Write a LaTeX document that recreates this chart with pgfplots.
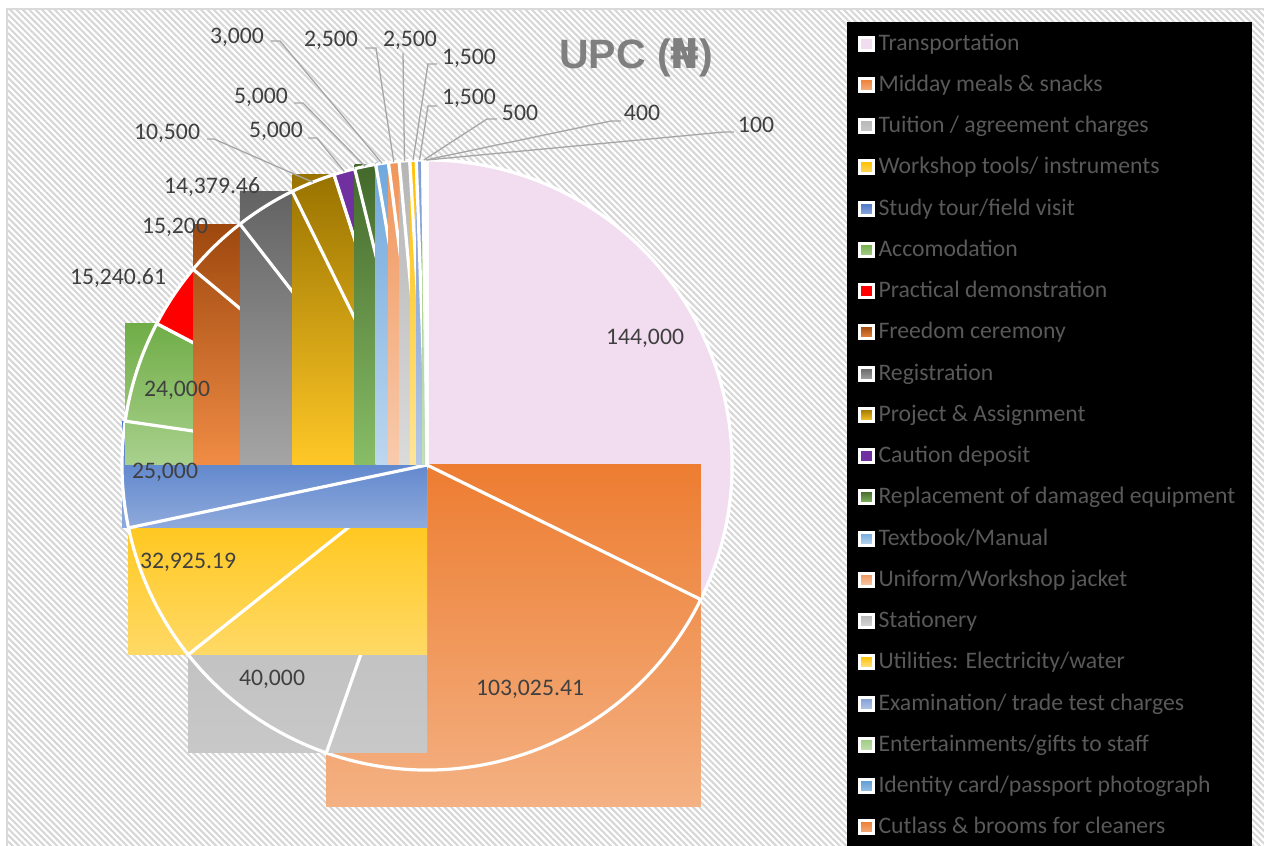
\documentclass[border=0pt]{standalone}
\usepackage{fontspec}
\setmainfont{Carlito}
\newfontfamily\titlefont{Liberation Sans}
\newfontfamily\nairafont{DejaVu Sans}
\usepackage{pgfplots}
\pgfplotsset{compat=1.18}
\usepackage{pgfplotstable}
\usepackage{xfp}
\usetikzlibrary{patterns.meta}

\definecolor{s0t}{HTML}{F2DCEF}\definecolor{s0b}{HTML}{F2DCEF}
\definecolor{s1t}{HTML}{ED7D31}\definecolor{s1b}{HTML}{F4B183}
\definecolor{s2t}{HTML}{B8B8B8}\definecolor{s2b}{HTML}{C8C8C8}
\definecolor{s3t}{HTML}{FFC000}\definecolor{s3b}{HTML}{FFD966}
\definecolor{s4t}{HTML}{4472C4}\definecolor{s4b}{HTML}{8FAADC}
\definecolor{s5t}{HTML}{70AD47}\definecolor{s5b}{HTML}{A9D18E}
\definecolor{s6t}{HTML}{FF0000}\definecolor{s6b}{HTML}{FF0000}
\definecolor{s7t}{HTML}{9E480E}\definecolor{s7b}{HTML}{F08C45}
\definecolor{s8t}{HTML}{636363}\definecolor{s8b}{HTML}{A5A5A5}
\definecolor{s9t}{HTML}{997300}\definecolor{s9b}{HTML}{FFC827}
\definecolor{s10t}{HTML}{7030A0}\definecolor{s10b}{HTML}{7030A0}
\definecolor{s11t}{HTML}{43682B}\definecolor{s11b}{HTML}{88BD66}
\definecolor{s12t}{HTML}{70A8DC}\definecolor{s12b}{HTML}{BDD7EE}
\definecolor{s13t}{HTML}{F0955A}\definecolor{s13b}{HTML}{F8CBAD}
\definecolor{s14t}{HTML}{B5B5B5}\definecolor{s14b}{HTML}{DBDBDB}
\definecolor{s15t}{HTML}{FFC000}\definecolor{s15b}{HTML}{FFE699}
\definecolor{s16t}{HTML}{7F9DD4}\definecolor{s16b}{HTML}{B4C7E7}
\definecolor{s17t}{HTML}{9CCB7C}\definecolor{s17b}{HTML}{C5E0B4}
\definecolor{s18t}{HTML}{5B9BD5}\definecolor{s18b}{HTML}{9DC3E6}
\definecolor{s19t}{HTML}{ED7D31}\definecolor{s19b}{HTML}{F4B183}
\definecolor{hatch}{HTML}{D6D6D6}
\definecolor{bordercol}{HTML}{D9D9D9}
\definecolor{labelgray}{HTML}{404040}
\definecolor{legtext}{HTML}{595959}
\definecolor{titlegray}{HTML}{7F7F7F}
\definecolor{leadercol}{HTML}{A6A6A6}

% value, data label, label centre (image px), leader start and knee (image px; 0 = no leader),
% sec = 1 for solid-filled slices (drawn as true sectors), 0 for gradient slices (drawn as bounding rectangles)
\pgfplotstableread{
value label lx ly sx sy kx ky sec
144000 144,000 645 338 0 0 0 0 1
103025.41 103,025.41 530 689 0 0 0 0 0
40000 40,000 272 679 0 0 0 0 0
32925.19 32,925.19 188 562 0 0 0 0 0
25000 25,000 165 472 0 0 0 0 0
24000 24,000 177 390 0 0 0 0 0
15240.61 15,240.61 118 278 0 0 0 0 1
15200 15,200 175 227 0 0 0 0 0
14379.46 14,379.46 212 187 0 0 0 0 0
10500 10,500 167 133 207 139 214 139 0
5000 5,000 276 131 308 138 317 138 1
5000 5,000 261 97 294 103 303 103 0
3000 3,000 237 37 271 41 280 41 0
2500 2,500 331 40 365 48 376 48 0
2500 2,500 410 40 403 53 403 53 0
1500 1,500 469 58 437 64 428 64 0
1500 1,500 469 98 437 106 428 106 0
500 500 520 113 497 119 487 119 0
400 400 642 113 621 121 611 121 0
100 100 756 125 734 132 724 132 0
}\slices

\def\cx{427}\def\cy{381}\def\R{305}

\begin{document}
\begin{tikzpicture}
\def\total{0}
\pgfplotsforeachungrouped \sl in {0,...,19}{%
  \pgfplotstablegetelem{\sl}{value}\of\slices
  \edef\total{\fpeval{\total+\pgfplotsretval}}%
}
\begin{axis}[
  x=1pt, y=1pt, xmin=0, xmax=1264, ymin=0, ymax=846,
  enlargelimits=false, hide axis, clip=false,
  at={(0,0)}, anchor=south west,
  legend entries={Transportation, Midday meals \& snacks, Tuition / agreement charges,
    Workshop tools/ instruments, Study tour/field visit, Accomodation,
    Practical demonstration, Freedom ceremony, Registration, Project \& Assignment,
    Caution deposit, Replacement of damaged equipment, Textbook/Manual,
    Uniform/Workshop jacket, Stationery, Utilities: Electricity/water,
    Examination/ trade test charges, Entertainments/gifts to staff,
    Identity card/passport photograph, Cutlass \& brooms for cleaners},
  legend cell align=left,
  legend image code/.code={\draw[#1,draw=white,line width=3pt] (1.5pt,-5.7pt) rectangle (15.5pt,7.3pt);},
  legend style={at={(axis description cs:0.6788,0.9598)}, anchor=north west,
    draw=none, fill=none, inner sep=0pt, outer sep=0pt,
    row sep=20.25pt, column sep=3.5pt,
    font=\fontsize{23.7}{28}\selectfont,
    nodes={inner sep=0pt, text=legtext, text height=16pt, text depth=5pt}},
]
% background
\fill[white] (axis cs:0,0) rectangle (axis cs:1264,846);
\fill[pattern={Lines[angle=-45,distance=4.5pt,line width=2pt]}, pattern color=hatch]
  (axis cs:7,0) rectangle (axis cs:1264,837);
\draw[bordercol, line width=1.5pt] (axis cs:7,0) -- (axis cs:7,837) -- (axis cs:1264,837);
\fill[black] (axis cs:847,0) rectangle (axis cs:1252,824);

% slice fills, each followed by its white outline
\def\astart{90}
\pgfplotsforeachungrouped \sl in {0,...,19}{%
  \pgfplotstablegetelem{\sl}{value}\of\slices \let\v\pgfplotsretval
  \pgfplotstablegetelem{\sl}{sec}\of\slices \let\sec\pgfplotsretval
  \edef\aA{\astart}%
  \edef\aB{\fpeval{\aA-\v/\total*360}}%
  \global\let\astart\aB
  \edef\xL{\fpeval{\cx+\R*min(0,cosd(\aA),cosd(\aB),(((\aB<=-180)&&(\aA>=-180))?-1:0))}}%
  \edef\xR{\fpeval{\cx+\R*max(0,cosd(\aA),cosd(\aB),(((\aB<=0)&&(\aA>=0))?1:0))}}%
  \edef\yT{\fpeval{\cy+\R*max(0,sind(\aA),sind(\aB),(((\aB<=90)&&(\aA>=90))?1:0))}}%
  \edef\yB{\fpeval{\cy+\R*min(0,sind(\aA),sind(\aB),(((\aB<=-90)&&(\aA>=-90))?-1.12:0))}}%
  \edef\pAx{\fpeval{\cx+\R*cosd(\aA)}}\edef\pAy{\fpeval{\cy+\R*sind(\aA)}}%
  \edef\pBx{\fpeval{\cx+\R*cosd(\aB)}}\edef\pBy{\fpeval{\cy+\R*sind(\aB)}}%
  \edef\outline{\noexpand\draw[white,line width=3.2pt,line join=round]
      (axis cs:\pAx,\pAy) -- (axis cs:\cx,\cy) -- (axis cs:\pBx,\pBy)
      arc[start angle=\aB, end angle=\aA, radius=\R pt];}%
  \ifnum\sec=1
    \edef\cmd{\noexpand\begin{scope}\noexpand\clip (axis cs:\cx,\cy) -- (axis cs:\pBx,\pBy)
        arc[start angle=\aB, end angle=\aA, radius=\R pt] -- cycle;
      \noexpand\addplot[draw=none,mark=none,top color=s\sl t,bottom color=s\sl b]
        coordinates {(\xL,\yT) (\xR,\yT) (\xR,\yB) (\xL,\yB) (\xL,\yT)};
      \noexpand\end{scope}}%
  \else
    \edef\cmd{\noexpand\addplot[draw=none,mark=none,top color=s\sl t,bottom color=s\sl b]
        coordinates {(\xL,\yT) (\xR,\yT) (\xR,\yB) (\xL,\yB) (\xL,\yT)};}%
  \fi
  \cmd
  \outline
}

% leader lines and data labels
\def\astart{90}
\pgfplotsforeachungrouped \sl in {0,...,19}{%
  \pgfplotstablegetelem{\sl}{value}\of\slices \let\v\pgfplotsretval
  \edef\aA{\astart}%
  \edef\aB{\fpeval{\aA-\v/\total*360}}%
  \global\let\astart\aB
  \edef\am{\fpeval{(\aA+\aB)/2}}%
  \edef\mx{\fpeval{\cx+\R*cosd(\am)}}%
  \edef\my{\fpeval{\cy+\R*sind(\am)}}%
  \pgfplotstablegetelem{\sl}{sx}\of\slices \let\sx\pgfplotsretval
  \pgfplotstablegetelem{\sl}{sy}\of\slices \edef\sy{\fpeval{846-\pgfplotsretval}}%
  \pgfplotstablegetelem{\sl}{kx}\of\slices \let\kx\pgfplotsretval
  \pgfplotstablegetelem{\sl}{ky}\of\slices \edef\ky{\fpeval{846-\pgfplotsretval}}%
  \pgfplotstablegetelem{\sl}{lx}\of\slices \let\lx\pgfplotsretval
  \pgfplotstablegetelem{\sl}{ly}\of\slices \edef\ly{\fpeval{846-\pgfplotsretval}}%
  \pgfplotstablegetelem{\sl}{label}\of\slices \let\lab\pgfplotsretval
  \ifnum\fpeval{\sx>0}=1
    \edef\cmd{\noexpand\addplot[leadercol,line width=1.3pt,mark=none,forget plot]
      coordinates {(\sx,\sy) (\kx,\ky) (\mx,\my)};}%
    \cmd
  \fi
  \edef\cmd{\noexpand\node[text=labelgray, inner sep=0pt,
      font=\noexpand\fontsize{23.7}{28}\noexpand\selectfont]
      at (axis cs:\lx,\ly) {\lab};}%
  \cmd
}

% title
\node[text=titlegray, font=\titlefont\bfseries\fontsize{41}{48}\selectfont]
  at (axis cs:636,788) {UPC ({\nairafont\bfseries ₦})};
\end{axis}
\pgfresetboundingbox
\useasboundingbox (0,0) rectangle (1264pt,846pt);
\end{tikzpicture}
\end{document}
